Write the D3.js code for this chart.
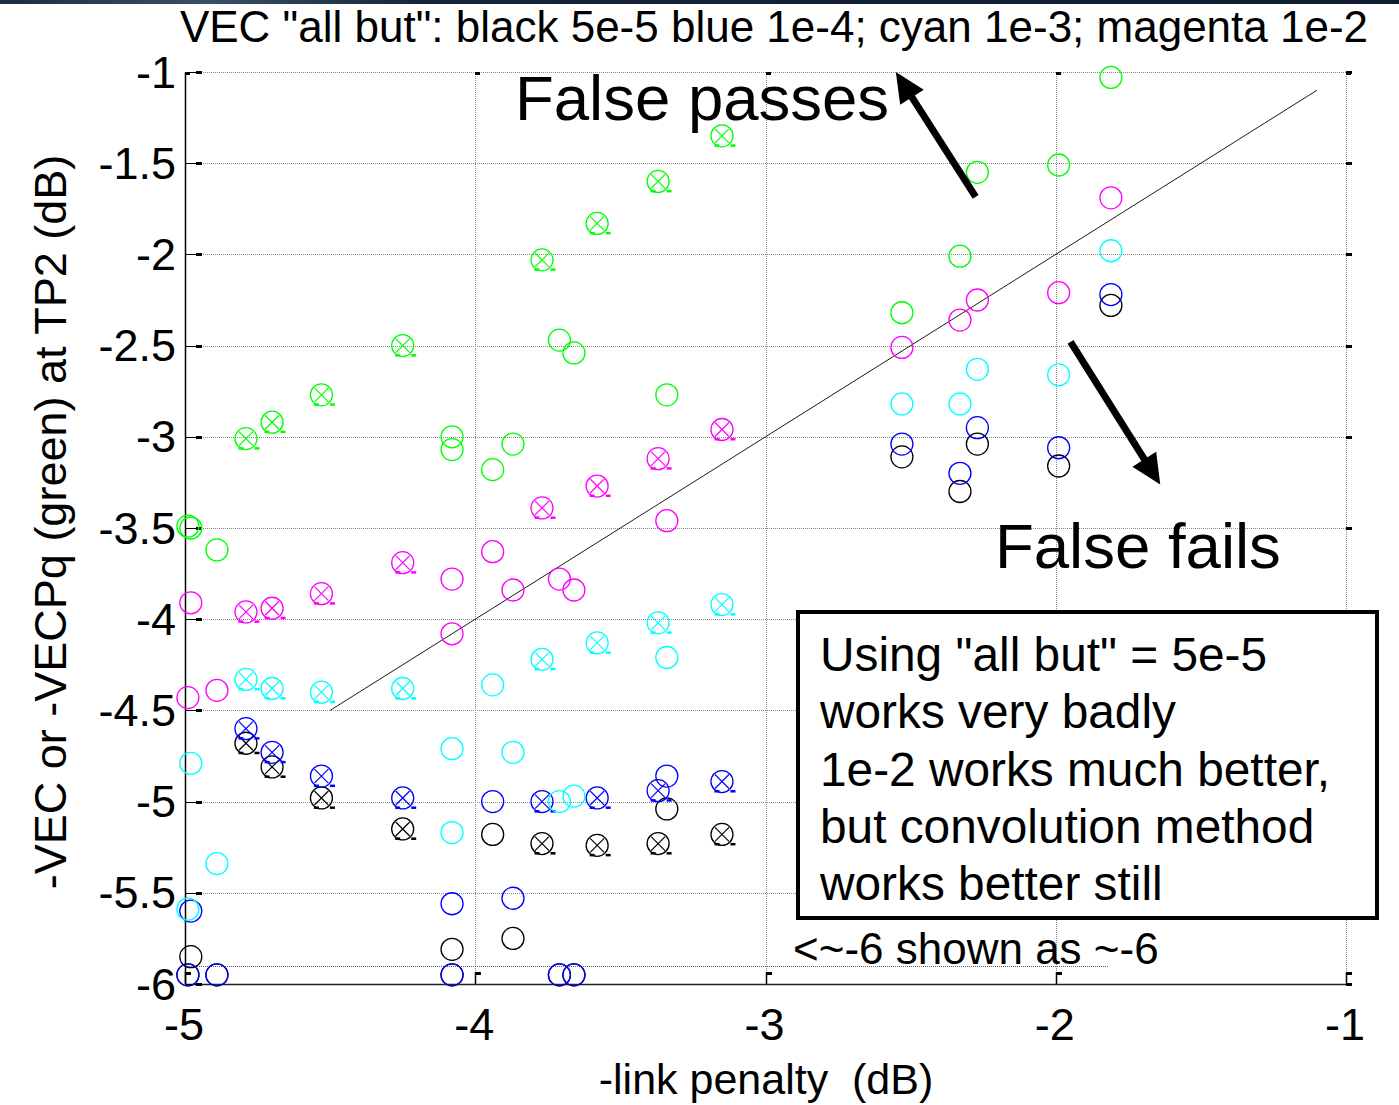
<!DOCTYPE html>
<html><head><meta charset="utf-8">
<script src="https://cdn.jsdelivr.net/npm/d3@7"></script>
<style>
body{margin:0;background:#fff;overflow:hidden;}
text{font-family:"Liberation Sans", Arial, Helvetica, sans-serif;fill:#000;white-space:pre;}
</style>
</head><body>
<svg id="chart" width="1399" height="1105"></svg>
<script>
// ---- data ----
const xValues   = [-4.98,-4.99,-4.89,-4.79,-4.70,-4.53,-4.25,-4.08,-4.08,-3.94,-3.87,-3.77,-3.71,-3.66,-3.58,-3.37,-3.34,-3.15,-2.53,-2.33,-2.27,-1.99,-1.81];
const crossed   = [false,false,false,true,true,true,true,false,false,false,false,true,false,false,true,true,false,true,false,false,false,false,false];
const blackVals = [-5.85,-5.95,-5.95,-4.68,-4.81,-4.98,-5.15,-5.81,-5.95,-5.18,-5.75,-5.23,-5.95,-5.95,-5.24,-5.23,-5.04,-5.18,-3.11,-3.30,-3.04,-3.16,-2.28];
const blueVals  = [-5.60,-5.95,-5.95,-4.60,-4.73,-4.86,-4.98,-5.56,-5.95,-5.00,-5.53,-5.00,-5.95,-5.95,-4.98,-4.94,-4.86,-4.89,-3.04,-3.20,-2.95,-3.06,-2.22];
const cyanVals  = [-4.79,-5.59,-5.34,-4.33,-4.38,-4.40,-4.38,-4.71,-5.17,-4.36,-4.73,-4.22,-5.00,-4.97,-4.13,-4.02,-4.21,-3.92,-2.82,-2.82,-2.63,-2.66,-1.98];
const magentaVals=[-3.91,-4.43,-4.39,-3.96,-3.94,-3.86,-3.69,-3.78,-4.08,-3.63,-3.84,-3.39,-3.78,-3.84,-3.27,-3.12,-3.46,-2.96,-2.51,-2.36,-2.25,-2.21,-1.69];
const greenVals = [-3.50,-3.49,-3.62,-3.01,-2.92,-2.77,-2.50,-3.00,-3.07,-3.18,-3.04,-2.03,-2.47,-2.54,-1.83,-1.60,-2.77,-1.35,-2.32,-2.01,-1.55,-1.51,-1.03];

const xTicks = [-5,-4,-3,-2,-1];
const yTicks = [-1,-1.5,-2,-2.5,-3,-3.5,-4,-4.5,-5,-5.5,-6];
const diagLine = [[-4.5,-4.5],[-1.1,-1.1]];
const floorLine = {y:-5.9, x0:-5, x1:-1.82};
const arrows = [ {from:[-2.276,-1.685], to:[-2.551,-1.0]}, {from:[-1.949,-2.479], to:[-1.640,-3.262]} ];

const titleText = 'VEC "all but": black 5e-5 blue 1e-4; cyan 1e-3; magenta 1e-2';
const xLabelText = '-link penalty  (dB)';
const yLabelText = '-VEC or -VECPq (green) at TP2 (dB)';
const noteLines = ['Using "all but" = 5e-5','works very badly','1e-2 works much better,','but convolution method','works better still'];

const series = [
  {name:'black',   color:'#000000', values:blackVals},
  {name:'blue',    color:'#0000ff', values:blueVals},
  {name:'cyan',    color:'#00ffff', values:cyanVals},
  {name:'magenta', color:'#ff00ff', values:magentaVals},
  {name:'green',   color:'#00ff00', values:greenVals}
];

// ---- drawing ----
const svg = d3.select('#chart');
const L=185, R=1346, T=72, B=984;
const x = d3.scaleLinear().domain([-5,-1]).range([L,R]);
const y = d3.scaleLinear().domain([-6,-1]).range([B,T]);

// dark band at top of picture
const defs = svg.append('defs');
const lg = defs.append('linearGradient').attr('id','band').attr('x1','0').attr('x2','1');
lg.append('stop').attr('offset','0').attr('stop-color','#1c2c40');
lg.append('stop').attr('offset','0.15').attr('stop-color','#3a5066');
lg.append('stop').attr('offset','0.3').attr('stop-color','#16243a');
lg.append('stop').attr('offset','1').attr('stop-color','#101c30');
svg.append('rect').attr('x',0).attr('y',0).attr('width',1399).attr('height',4).attr('fill','url(#band)');

const grid = svg.append('g').attr('stroke','#8a8a8a').attr('stroke-width',1).attr('stroke-dasharray','1,1').attr('fill','none');
xTicks.filter(v=>v>-5).forEach(v=>{
  grid.append('line').attr('x1',Math.round(x(v))+0.5).attr('x2',Math.round(x(v))+0.5).attr('y1',T).attr('y2',B);
});
yTicks.filter(v=>v>-6).forEach(v=>{
  grid.append('line').attr('x1',L).attr('x2',R).attr('y1',Math.round(y(v))+0.5).attr('y2',Math.round(y(v))+0.5);
});
// "<~-6 shown as ~-6" floor line
grid.append('line').attr('x1',x(floorLine.x0)).attr('x2',x(floorLine.x1))
  .attr('y1',Math.round(y(floorLine.y))+0.5).attr('y2',Math.round(y(floorLine.y))+0.5).attr('stroke','#606060');

// axes
const ax = svg.append('g');
ax.append('line').attr('x1',L+0.5).attr('x2',L+0.5).attr('y1',T).attr('y2',B+1).attr('stroke','#000').attr('stroke-width',1.5);
ax.append('line').attr('x1',L).attr('x2',R+1).attr('y1',B+0.5).attr('y2',B+0.5).attr('stroke','#222').attr('stroke-width',1.3);

// y ticks (inward) + labels
yTicks.forEach(v=>{
  const py = Math.round(y(v));
  ax.append('line').attr('x1',L).attr('x2',L+12).attr('y1',py+0.5).attr('y2',py+0.5).attr('stroke','#000');
  ax.append('rect').attr('x',L+11).attr('y',py-1).attr('width',6).attr('height',3).attr('fill','#000');
  ax.append('rect').attr('x',R).attr('y',py-1).attr('width',6).attr('height',3).attr('fill','#000');
});
svg.append('g').selectAll('text').data(yTicks).join('text')
  .attr('x',176).attr('y',d=>y(d)+15.5).attr('text-anchor','end').attr('font-size',45)
  .text(d=>String(d));

// x ticks (inward) + labels
xTicks.forEach(v=>{
  const px = Math.round(x(v));
  ax.append('line').attr('x1',px+0.5).attr('x2',px+0.5).attr('y1',B).attr('y2',B-12).attr('stroke','#000').attr('stroke-width',1.5);
  ax.append('rect').attr('x',px).attr('y',B-12).attr('width',6).attr('height',3).attr('fill','#000');
  ax.append('rect').attr('x',px).attr('y',T).attr('width',5).attr('height',3).attr('fill','#000');
});
svg.append('g').selectAll('text').data(xTicks).join('text')
  .attr('x',d=>x(d)-1).attr('y',1040).attr('text-anchor','middle').attr('font-size',45)
  .text(d=>String(d));

// diagonal reference line
svg.append('path').attr('d',d3.line().x(d=>x(d[0])).y(d=>y(d[1]))(diagLine))
  .attr('stroke','#000').attr('stroke-width',0.9).attr('fill','none');

// markers
const pts = svg.append('g').attr('fill','none');
series.forEach(s=>{
  s.values.forEach((v,i)=>{
    const cx = x(xValues[i]), cy = y(v);
    const g = pts.append('g').attr('stroke',s.color);
    g.append('circle').attr('cx',cx).attr('cy',cy).attr('r',11).attr('stroke-width',1.3);
    if(crossed[i]){
      g.append('line').attr('x1',cx-7).attr('y1',cy-7).attr('x2',cx+7).attr('y2',cy+7).attr('stroke-width',1.2);
      g.append('line').attr('x1',cx-7).attr('y1',cy+7).attr('x2',cx+7).attr('y2',cy-7).attr('stroke-width',1.2);
      g.append('rect').attr('x',cx-7.5).attr('y',cy+8.5).attr('width',5).attr('height',2.5).attr('fill',s.color).attr('stroke','none');
      g.append('rect').attr('x',cx+8.5).attr('y',cy+8.5).attr('width',5).attr('height',2.5).attr('fill',s.color).attr('stroke','none');
    }
  });
});

// arrows
arrows.forEach(a=>{
  const x0=x(a.from[0]), y0=y(a.from[1]), x1=x(a.to[0]), y1=y(a.to[1]);
  const dx=x1-x0, dy=y1-y0, len=Math.hypot(dx,dy), ux=dx/len, uy=dy/len;
  const hl=30, hw=14;
  const bx=x1-ux*hl, by=y1-uy*hl;
  svg.append('line').attr('x1',x0).attr('y1',y0).attr('x2',bx+ux*2).attr('y2',by+uy*2)
    .attr('stroke','#000').attr('stroke-width',7);
  svg.append('path').attr('d',`M${x1},${y1}L${bx-uy*hw},${by+ux*hw}L${bx+uy*hw},${by-ux*hw}Z`).attr('fill','#000');
});

// annotation texts
svg.append('text').attr('x',515).attr('y',120).attr('font-size',63.5).text('False passes');
svg.append('text').attr('x',995).attr('y',568).attr('font-size',63.5).text('False fails');
svg.append('text').attr('x',793).attr('y',964).attr('font-size',44).text('<~-6 shown as ~-6');

// note box
svg.append('rect').attr('x',798).attr('y',612).attr('width',579).attr('height',306)
  .attr('fill','#fff').attr('stroke','#000').attr('stroke-width',4);
svg.append('g').selectAll('text').data(noteLines).join('text')
  .attr('x',820).attr('y',(d,i)=>671+i*57.3).attr('font-size',47.8).text(d=>d);

// title and axis labels
svg.append('text').attr('x',774).attr('y',42).attr('text-anchor','middle').attr('font-size',44).text(titleText);
svg.append('text').attr('x',766).attr('y',1094).attr('text-anchor','middle').attr('font-size',43).text(xLabelText);
svg.append('text').attr('transform','translate(66,522) rotate(-90)').attr('text-anchor','middle').attr('font-size',45).text(yLabelText);
</script>
</body></html>
